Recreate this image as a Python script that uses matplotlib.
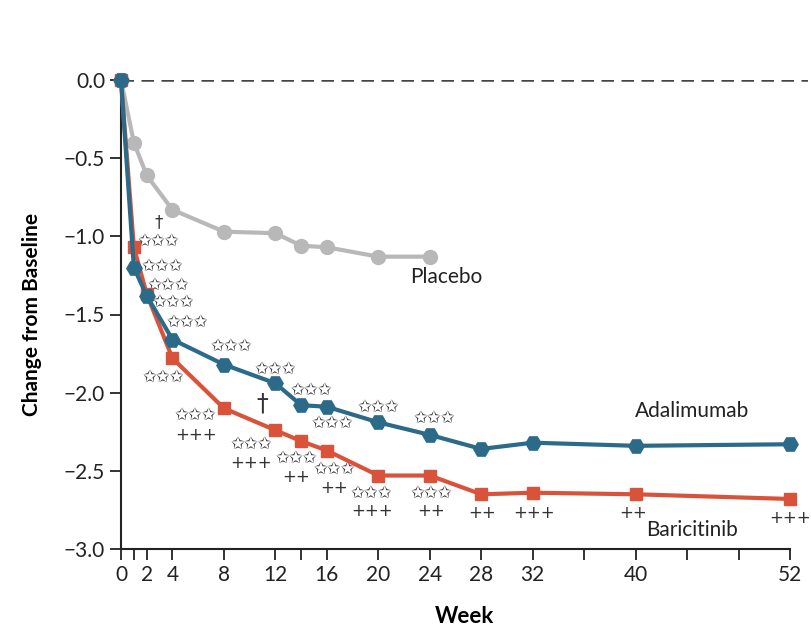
import matplotlib.pyplot as plt

plt.rcParams['font.family'] = ['Lato', 'DejaVu Sans']

# data
placebo_wk = [0, 1, 2, 4, 8, 12, 14, 16, 20, 24]
placebo = [0, -0.40, -0.61, -0.83, -0.97, -0.98, -1.06, -1.07, -1.13, -1.13]

weeks = [0, 1, 2, 4, 8, 12, 14, 16, 20, 24, 28, 32, 40, 52]
adalimumab = [0, -1.20, -1.38, -1.66, -1.82, -1.94, -2.08, -2.09, -2.19, -2.27, -2.36, -2.32, -2.34, -2.33]
baricitinib = [0, -1.07, -1.37, -1.78, -2.10, -2.24, -2.31, -2.37, -2.53, -2.53, -2.65, -2.64, -2.65, -2.68]

tick_wk = [0, 1, 2, 4, 8, 12, 14, 16, 20, 24, 28, 32, 36, 40, 44, 48, 52]
label_wk = [0, 2, 4, 8, 12, 16, 20, 24, 28, 32, 40, 52]

# significance marks (week, value, text, size)
star = '\u2729\u2729\u2729'
marks = [
    (2.9, -0.91, '\u2020', 12), (2.9, -1.03, star, 12), (3.2, -1.19, star, 12), (3.7, -1.31, star, 12),
    (4.1, -1.42, star, 12), (5.2, -1.55, star, 12), (8.6, -1.70, star, 12), (3.3, -1.90, star, 12),
    (12.0, -1.85, star, 12), (14.8, -1.98, star, 12), (11.0, -2.07, '\u2020', 17),
    (5.8, -2.14, star, 12), (5.8, -2.27, '+++', 12), (16.4, -2.19, star, 12), (20.0, -2.09, star, 12),
    (24.4, -2.16, star, 12), (10.1, -2.33, star, 12), (10.1, -2.45, '+++', 12),
    (13.6, -2.42, star, 12), (13.6, -2.54, '++', 12), (16.6, -2.49, star, 12), (16.6, -2.61, '++', 12),
    (19.5, -2.64, star, 12), (19.5, -2.76, '+++', 12), (24.1, -2.64, star, 12), (24.1, -2.76, '++', 12),
    (28.1, -2.77, '++', 12), (32.1, -2.77, '+++', 12), (39.8, -2.77, '++', 12), (52.0, -2.80, '+++', 12),
]

fig = plt.figure(figsize=(8.11, 6.32), dpi=100)
ax = fig.add_axes([121 / 811, 1 - 549 / 632, 687 / 811, 469 / 632])

ax.axhline(0, color='#444444', ls=(0, (5, 3)), lw=1.8, zorder=1)
ax.plot(placebo_wk, placebo, color='#b8b8b8', marker='o', ms=10, lw=3, clip_on=False, zorder=3)
ax.plot(weeks, baricitinib, color='#d9533a', marker='s', ms=9, lw=3, clip_on=False, zorder=4)
ax.plot(weeks, adalimumab, color='#2b6b89', marker='H', ms=11, lw=3, clip_on=False, zorder=5)

for x, y, t, fs in marks:
    ax.text(x, y, t, ha='center', va='center', fontsize=fs, color='#333333',
            family=['DejaVu Sans'])

ax.text(25.3, -1.26, 'Placebo', ha='center', va='center', fontsize=15, color='#222222')
ax.text(44.4, -2.12, 'Adalimumab', ha='center', va='center', fontsize=15, color='#222222')
ax.text(44.4, -2.88, 'Baricitinib', ha='center', va='center', fontsize=15, color='#222222')

ax.set_xlim(0, 52 * 687 / 669)
ax.set_ylim(-3, 0)
ax.set_xticks(tick_wk)
ax.set_xticklabels([str(w) if w in label_wk else '' for w in tick_wk])
ax.set_yticks([0, -0.5, -1.0, -1.5, -2.0, -2.5, -3.0])
ax.set_yticklabels(['0.0', '\u22120.5', '\u22121.0', '\u22121.5', '\u22122.0', '\u22122.5', '\u22123.0'])
ax.tick_params(direction='out', length=8, width=1.3, labelsize=15, color='#222222', labelcolor='#222222')
ax.spines['top'].set_visible(False)
ax.spines['right'].set_visible(False)
ax.spines['bottom'].set_bounds(0, 52)
for s in ('left', 'bottom'):
    ax.spines[s].set_linewidth(1.5)
    ax.spines[s].set_color('#222222')

ax.set_xlabel('Week', fontsize=16, fontweight='bold', labelpad=15)
ax.set_ylabel('Change from Baseline', fontsize=15, fontweight='bold', labelpad=16)

fig.savefig('out.png', dpi=100)
